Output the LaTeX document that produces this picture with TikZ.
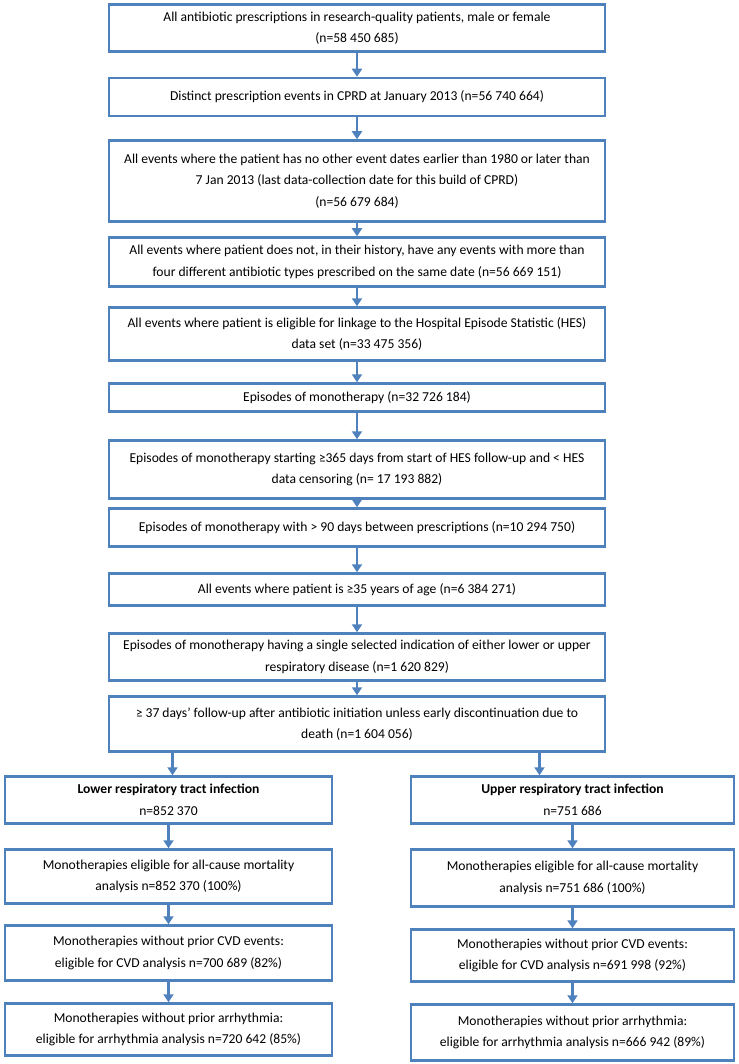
\documentclass[tikz,border=0pt]{standalone}
\usepackage{fontspec}
\setmainfont{Carlito}
\usetikzlibrary{arrows.meta,calc}
\definecolor{boxblue}{RGB}{79,129,189}

\begin{document}
\begin{tikzpicture}[x=1pt,y=-1pt,
  every node/.style={font=\fontsize{13.6}{21.5}\selectfont},
  box/.style={draw=boxblue,line width=2.5pt,align=center,inner sep=0pt},
  mainbox/.style={box,minimum width=496pt},
  leftbox/.style={box,minimum width=327pt},
  rightbox/.style={box,minimum width=323pt},
  arr/.style={boxblue,line width=2.5pt,-{Triangle[width=10pt,length=8pt]}}]
  \useasboundingbox (0,0) rectangle (738,1064);

  % Main column
  \node[mainbox,minimum height=47pt] (b1) at (357,28)
    {All antibiotic prescriptions in research-quality patients, male or female\\(n=58 450 685)};
  \node[mainbox,minimum height=38pt] (b2) at (357,97)
    {Distinct prescription events in CPRD at January 2013 (n=56 740 664)};
  \node[mainbox,minimum height=81pt] (b3) at (357,181)
    {All events where the patient has no other event dates earlier than 1980 or later than\\7 Jan 2013 (last data-collection date for this build of CPRD)\\(n=56 679 684)};
  \node[mainbox,minimum height=49pt] (b4) at (357,262)
    {All events where patient does not, in their history, have any events with more than\\four different antibiotic types prescribed on the same date (n=56 669 151)};
  \node[mainbox,minimum height=53pt] (b5) at (357,334)
    {All events where patient is eligible for linkage to the Hospital Episode Statistic (HES)\\data set (n=33 475 356)};
  \node[mainbox,minimum height=28pt] (b6) at (357,397.5)
    {Episodes of monotherapy (n=32 726 184)};
  \node[mainbox,minimum height=58pt] (b7) at (357,469.5)
    {Episodes of monotherapy starting ≥365 days from start of HES follow-up and < HES\\data censoring (n= 17 193 882)};
  \node[mainbox,minimum height=38pt] (b8) at (357,527.5)
    {Episodes of monotherapy with > 90 days between prescriptions (n=10 294 750)};
  \node[mainbox,minimum height=32pt] (b9) at (357,589.5)
    {All events where patient is ≥35 years of age (n=6 384 271)};
  \node[mainbox,minimum height=47pt] (b10) at (357,657)
    {Episodes of monotherapy having a single selected indication of either lower or upper\\respiratory disease (n=1 620 829)};
  \node[mainbox,minimum height=55pt] (b11) at (357,724)
    {≥ 37 days’ follow-up after antibiotic initiation unless early discontinuation due to\\death (n=1 604 056)};

  % Lower respiratory branch
  \node[leftbox,minimum height=47pt] (l1) at (168.5,800)
    {\textbf{Lower respiratory tract infection}\\n=852 370};
  \node[leftbox,minimum height=54pt] (l2) at (168.5,876.5)
    {Monotherapies eligible for all-cause mortality\\analysis n=852 370 (100\%)};
  \node[leftbox,minimum height=55pt] (l3) at (168.5,953)
    {Monotherapies without prior CVD events:\\eligible for CVD analysis n=700 689 (82\%)};
  \node[leftbox,minimum height=52pt] (l4) at (168.5,1029.5)
    {Monotherapies without prior arrhythmia:\\eligible for arrhythmia analysis n=720 642 (85\%)};

  % Upper respiratory branch
  \node[rightbox,minimum height=47pt] (r1) at (572.5,800)
    {\textbf{Upper respiratory tract infection}\\n=751 686};
  \node[rightbox,minimum height=57pt] (r2) at (572.5,878)
    {Monotherapies eligible for all-cause mortality\\analysis n=751 686 (100\%)};
  \node[rightbox,minimum height=52pt] (r3) at (572.5,955.5)
    {Monotherapies without prior CVD events:\\eligible for CVD analysis n=691 998 (92\%)};
  \node[rightbox,minimum height=56pt] (r4) at (572.5,1032.5)
    {Monotherapies without prior arrhythmia:\\eligible for arrhythmia analysis n=666 942 (89\%)};

  % Arrows
  \foreach \a/\b in {b1/b2,b2/b3,b3/b4,b4/b5,b5/b6,b6/b7,b7/b8,b8/b9,b9/b10,b10/b11,
                     l1/l2,l2/l3,l3/l4,r1/r2,r2/r3,r3/r4}
    \draw[arr] (\a) -- (\b);
  \draw[arr] ($(b11.south -| l1.north)+(4,0)$) -- ($(l1.north)+(4,0)$);
  \draw[arr] ($(b11.south -| r1.north)+(-33,0)$) -- ($(r1.north)+(-33,0)$);

\end{tikzpicture}
\end{document}
